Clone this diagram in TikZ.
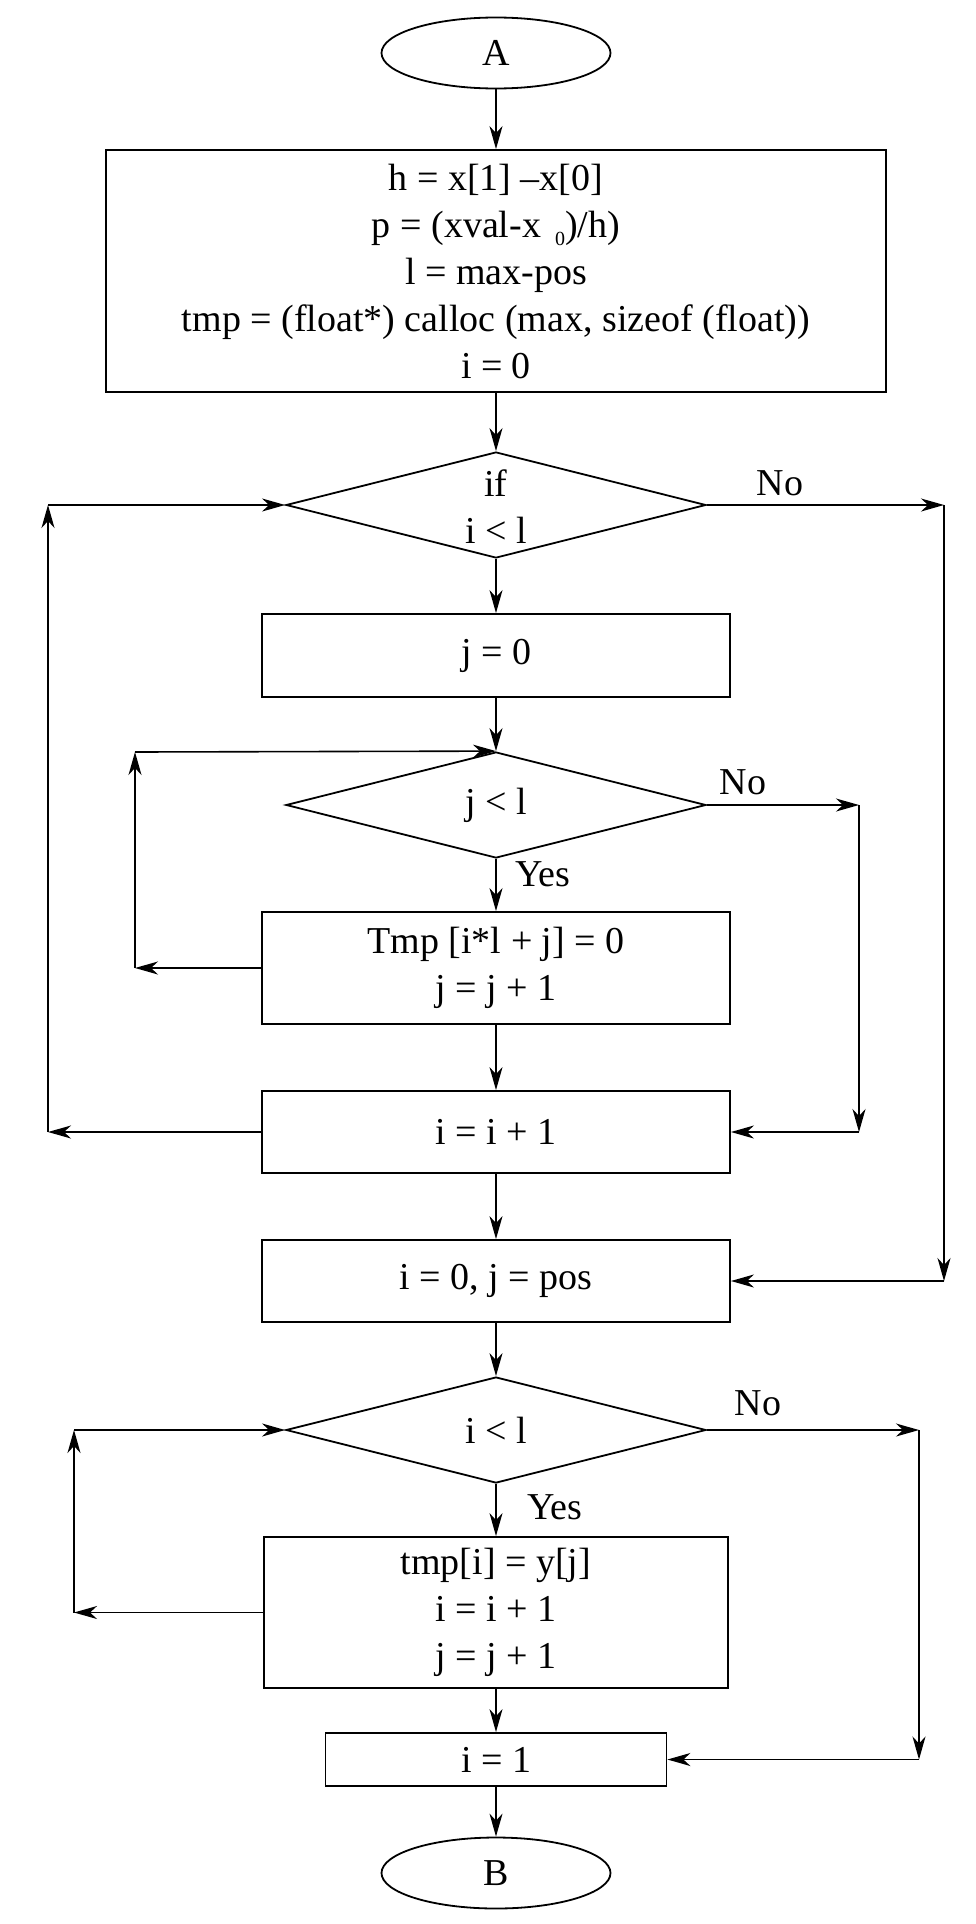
\documentclass[tikz,border=0pt]{standalone}
\usepackage{fontspec}
\setmainfont{Liberation Serif}
\usetikzlibrary{shapes.geometric,arrows.meta}
\tikzset{
  base/.style={draw, line width=1.8pt, inner sep=0pt, font=\fontsize{38}{47}\selectfont, align=center},
  ell/.style={base, ellipse, minimum width=229pt, minimum height=71pt},
  procbox/.style={base, rectangle, minimum width=468pt},
  dia/.style={base, diamond, minimum width=420pt, minimum height=106pt, aspect=3.96},
  txt/.style={inner sep=0pt, font=\fontsize{38}{47}\selectfont, align=center},
  arr/.style={line width=1.6pt, -{Stealth[length=23pt,width=13pt,inset=7pt]}},
  ln/.style={line width=1.6pt}
}
\begin{document}
\begin{tikzpicture}[x=1pt,y=-1pt]
\useasboundingbox (0,0) rectangle (975,1924);
% nodes
\node[ell] (A) at (496,53) {A};
\node[procbox, minimum width=780pt, minimum height=242pt] (b1) at (496,271)
  {h = x[1] –x[0]\\
   p = (xval-x\hspace{14pt}\raisebox{-8pt}{\fontsize{20}{20}\selectfont 0})/h)\\
   l = max-pos\\
   tmp = (float*) calloc (max, sizeof (float))\\
   i = 0};
\node[dia] (d1) at (496,505) {};
\node[txt] (d1t) at (496,507) {if\\i < l};
\node[procbox, minimum height=83pt] (b2) at (496,655.5) {j = 0};
\node[dia] (d2) at (496,805) {j < l};
\node[procbox, minimum height=112pt] (b3) at (496,968) {Tmp [i*l + j] = 0\\j = j + 1};
\node[procbox, minimum height=82pt] (b4) at (496,1132) {i = i + 1};
\node[procbox, minimum height=82pt] (b5) at (496,1281) {i = 0, j = pos};
\node[dia] (d3) at (496,1430) {i < l};
\node[procbox, minimum width=464pt, minimum height=151pt] (b6) at (496,1612.5) {tmp[i] = y[j]\\i = i + 1\\j = j + 1};
\node[procbox, minimum width=341pt, minimum height=53pt] (b7) at (496,1759.5) {i = 1};
\node[ell] (B) at (496,1873) {B};
% labels
\node[txt] (no1) at (780,483) {No};
\node[txt] (no2) at (743,782) {No};
\node[txt] (no3) at (758,1403) {No};
\node[txt] (yes2) at (543,874) {Yes};
\node[txt] (yes3) at (555,1507) {Yes};
% corner coordinates
\coordinate (o1) at (944,505);
\coordinate (o2) at (944,1281);
\coordinate (i1) at (859,805);
\coordinate (i2) at (859,1132);
\coordinate (l1) at (48,1132);
\coordinate (l2) at (48,505);
\coordinate (k1) at (135,968);
\coordinate (k2) at (135,752);
\coordinate (r1) at (919,1430);
\coordinate (r2) at (919,1759.5);
\coordinate (m1) at (74,1612.5);
\coordinate (m2) at (74,1430);
% main flow
\draw[arr] (A.south) -- (b1.north);
\draw[arr] (b1.south) -- (d1.north);
\draw[arr] (d1.south) -- (b2.north);
\draw[arr] (b2.south) -- (d2.north);
\draw[arr] (d2.south) -- (b3.north);
\draw[arr] (b3.south) -- (b4.north);
\draw[arr] (b4.south) -- (b5.north);
\draw[arr] (b5.south) -- (d3.north);
\draw[arr] (d3.south) -- (b6.north);
\draw[arr] (b6.south) -- (b7.north);
\draw[arr] (b7.south) -- (B.north);
% outer right (No of d1)
\draw[arr] (d1.east) -- (o1);
\draw[arr] (o1) -- (o2);
\draw[arr] (o2) -- (b5.east);
% inner right (No of d2)
\draw[arr] (d2.east) -- (i1);
\draw[arr] (i1) -- (i2);
\draw[arr] (i2) -- (b4.east);
% outer left loop
\draw[arr] (b4.west) -- (l1);
\draw[arr] (l1) -- (l2);
\draw[arr] (l2) -- (d1.west);
% inner left loop
\draw[arr] (b3.west) -- (k1);
\draw[arr] (k1) -- (k2);
\draw[arr] (k2) -- (d2.north);
% lower right (No of d3)
\draw[arr] (d3.east) -- (r1);
\draw[arr] (r1) -- (r2);
\draw[arr] (r2) -- (b7.east);
% lower left loop
\draw[arr] (b6.west) -- (m1);
\draw[arr] (m1) -- (m2);
\draw[arr] (m2) -- (d3.west);
\end{tikzpicture}
\end{document}
